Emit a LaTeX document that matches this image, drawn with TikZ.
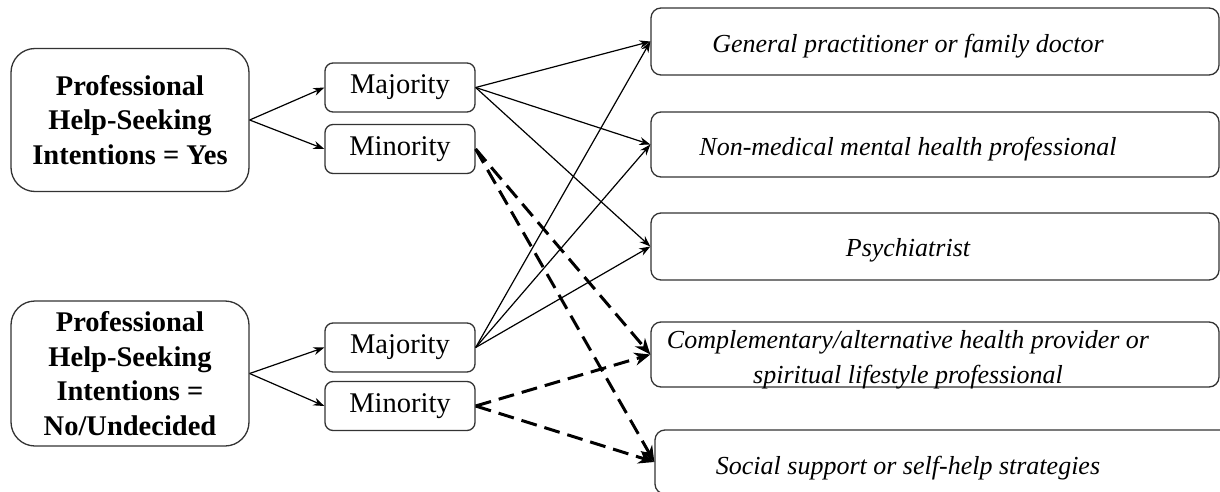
\documentclass[tikz,border=0pt]{standalone}
\usepackage{fontspec}
\setmainfont{Liberation Serif}
\usetikzlibrary{arrows.meta}
\begin{document}
\begin{tikzpicture}[x=1pt,y=-1pt,
 big/.style={draw=black!80, line width=1.3pt, rounded corners=24pt, font=\bfseries\fontsize{28.5}{34.5}\selectfont, align=center, inner sep=0pt, minimum width=238pt, minimum height=143pt},
 mid/.style={draw=black!80, line width=1.3pt, rounded corners=8pt, font=\fontsize{28.5}{34}\selectfont, inner sep=0pt, minimum width=150pt, minimum height=49pt},
 opt/.style={draw=black!80, line width=1.3pt, rounded corners=10pt, minimum width=568pt, minimum height=66pt, inner sep=0pt},
 lab/.style={font=\itshape\fontsize{26}{35}\selectfont, align=center, inner sep=0pt},
 sol/.style={line width=1.2pt, -{Stealth[length=11pt,width=8pt]}},
 dsh/.style={line width=3pt, dash pattern=on 16pt off 8pt, -{Stealth[length=16pt,width=13pt]}},
]
\useasboundingbox (0,0) rectangle (1220,492);
\clip (0,0) rectangle (1220,492);
\fill[white] (0,0) rectangle (1220,492);

\node[big] (y) at (130,120) {Professional\\Help-Seeking\\Intentions = Yes};
\node[big, minimum height=145pt] (n) at (130,373.5) {Professional\\Help-Seeking\\Intentions =\\No/Undecided};

\node[mid] (ymaj) at (400,87.5) {Majority};
\node[mid] (ymin) at (400,149) {Minority};
\node[mid] (nmaj) at (400,347.5) {Majority};
\node[mid] (nmin) at (400,406) {Minority};

\node[opt, minimum height=67pt] (o1) at (935,41.5) {};
\node[opt, minimum height=65pt] (o2) at (935,144.5) {};
\node[opt, minimum height=67pt] (o3) at (935,246.5) {};
\node[opt, minimum height=65pt] (o4) at (935,354.5) {};
\node[opt, minimum width=575pt, minimum height=64pt] (o5) at (942.5,462) {};

\node[lab] (l1) at (908,46.5) {General practitioner or family doctor};
\node[lab] (l2) at (908,149.5) {Non-medical mental health professional};
\node[lab] (l3) at (908,250.5) {Psychiatrist};
\node[lab] (l4) at (908,359.5) {Complementary/alternative health provider or\\spiritual lifestyle professional};
\node[lab] (l5) at (908,468) {Social support or self-help strategies};

\draw[sol] (y.east) -- (ymaj.west);
\draw[sol] (y.east) -- (ymin.west);
\draw[sol] (n.east) -- (nmaj.west);
\draw[sol] (n.east) -- (nmin.west);

\foreach \t in {o1,o2,o3}{
  \draw[sol] (ymaj.east) -- (\t.west);
  \draw[sol] (nmaj.east) -- (\t.west);
}
\foreach \t in {o4,o5}{
  \draw[dsh] (ymin.east) -- (\t.west);
  \draw[dsh] (nmin.east) -- (\t.west);
}
\end{tikzpicture}
\end{document}
